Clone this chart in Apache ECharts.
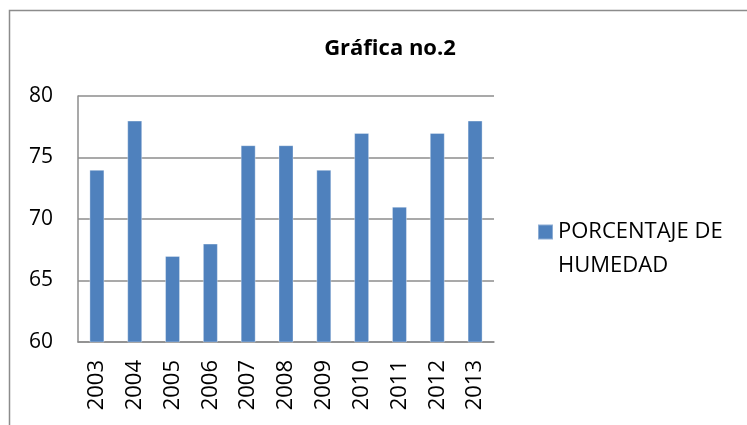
<!DOCTYPE html>
<html>
<head>
<meta charset="utf-8">
<script src="https://cdn.jsdelivr.net/npm/echarts@6/dist/echarts.min.js"></script>
<style>
  html, body { margin: 0; padding: 0; background: #fff; }
  #main { width: 747px; height: 425px; }
</style>
</head>
<body>
<div id="main"></div>
<script>
// datos de la gráfica
var years = ['2003', '2004', '2005', '2006', '2007', '2008', '2009', '2010', '2011', '2012', '2013'];
var humedad = [74, 78, 67, 68, 76, 76, 74, 77, 71, 77, 78];
var seriesName = 'PORCENTAJE DE HUMEDAD';

var myChart = echarts.init(document.getElementById('main'));
var font = '"Open Sans", sans-serif';

var option = {
  animation: false,
  title: {
    text: 'Gráfica no.2',
    left: 385,
    textAlign: 'center',
    top: 33,
    textStyle: { fontFamily: font, fontSize: 22, fontWeight: 'bold', color: '#000' }
  },
  graphic: [{
    type: 'rect',
    shape: { x: 9.5, y: 10.5, width: 800, height: 500 },
    style: { fill: 'none', stroke: '#8c8c8c', lineWidth: 1.5 },
    silent: true
  }],
  legend: {
    left: 537,
    top: 181,
    padding: 0,
    icon: 'rect',
    itemWidth: 15,
    itemHeight: 15,
    itemGap: 7,
    // línea vacía arriba para que el cuadro quede junto a la primera línea
    formatter: function () { return ' \nPORCENTAJE DE\nHUMEDAD'; },
    textStyle: { fontFamily: font, fontSize: 22, color: '#000', lineHeight: 34 }
  },
  grid: { left: 78, right: 253, top: 96, bottom: 83 },
  xAxis: {
    type: 'category',
    data: years,
    axisLine: { lineStyle: { color: '#8c8c8c', width: 1.5 } },
    axisTick: { show: false },
    axisLabel: { rotate: 90, margin: 18, fontFamily: font, fontSize: 22, color: '#000' }
  },
  yAxis: {
    type: 'value',
    min: 60,
    max: 80,
    interval: 5,
    axisLine: { show: true, lineStyle: { color: '#8c8c8c', width: 1.5 } },
    axisTick: { show: false },
    splitLine: { lineStyle: { color: '#8c8c8c', width: 1.5 } },
    axisLabel: { margin: 25, fontFamily: font, fontSize: 21, color: '#000' }
  },
  series: [{
    name: seriesName,
    type: 'bar',
    data: humedad,
    barWidth: 15,
    itemStyle: { color: '#4f81bd', borderColor: 'rgba(255,255,255,0.35)', borderWidth: 1 }
  }]
};

myChart.setOption(option);
</script>
</body>
</html>
